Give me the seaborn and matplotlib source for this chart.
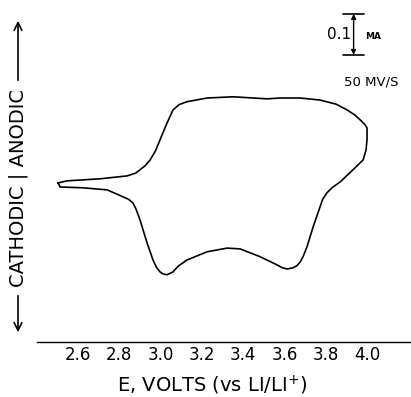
import matplotlib
matplotlib.use("Agg")
import matplotlib.pyplot as plt
import numpy as np
import pandas as pd
import seaborn as sns

# potential (V vs Li/Li+) and current (mA), one full cycle
volts = [2.503, 2.547, 2.707, 2.837, 2.880, 2.900, 2.925, 2.949, 2.975, 2.997, 3.031, 3.060,
         3.090, 3.128, 3.225, 3.351, 3.448, 3.516, 3.579, 3.676, 3.772, 3.850, 3.903,
         3.940, 3.966, 3.990, 4.000, 4.000, 3.995, 3.981, 3.932, 3.869, 3.830, 3.806,
         3.785, 3.772, 3.739, 3.709, 3.690, 3.676, 3.660, 3.642, 3.613, 3.590, 3.564,
         3.482, 3.385, 3.322, 3.225, 3.128, 3.085, 3.060, 3.031, 3.012, 2.997, 2.980,
         2.963, 2.934, 2.900, 2.880, 2.866, 2.845, 2.818, 2.741, 2.624, 2.513, 2.503]
current = [0.000, 0.005, 0.010, 0.017, 0.024, 0.032, 0.042, 0.056, 0.078, 0.105, 0.146, 0.178,
           0.191, 0.198, 0.207, 0.210, 0.207, 0.205, 0.207, 0.207, 0.202, 0.192, 0.178,
           0.166, 0.154, 0.142, 0.134, 0.105, 0.080, 0.056, 0.032, 0.002, -0.012, -0.024,
           -0.040, -0.059, -0.107, -0.156, -0.180, -0.193, -0.202, -0.207, -0.210, -0.207, -0.200,
           -0.180, -0.161, -0.159, -0.168, -0.188, -0.203, -0.217, -0.224, -0.222, -0.217, -0.206,
           -0.188, -0.146, -0.090, -0.063, -0.049, -0.040, -0.034, -0.017, -0.012, -0.010, 0.000]
tick_vals = [2.6, 2.8, 3.0, 3.2, 3.4, 3.6, 3.8, 4.0]
tick_labels = ["2.6", "2.8", "3.0", "3.2", "3.4", "3.6", "3.8", "4.0"]

df = pd.DataFrame({"E": volts, "I": current})

sns.set_style("white")
plt.rcParams["font.family"] = ["DejaVu Sans"]
plt.rcParams["text.color"] = "black"
plt.rcParams["xtick.color"] = "black"

fig = plt.figure(figsize=(4.11, 3.97), dpi=100)
ax = fig.add_axes([37 / 411, 55 / 397, 374 / 411, 342 / 397])

sns.lineplot(data=df, x="E", y="I", sort=False, estimator=None,
             color="black", linewidth=1.2, ax=ax)
for ln in ax.lines:
    ln.set_solid_joinstyle("round")

ax.set_xlim(2.401, 4.213)
ax.set_ylim(-0.388, 0.446)
for s in ["top", "right", "left"]:
    ax.spines[s].set_visible(False)
ax.spines["bottom"].set_color("black")
ax.spines["bottom"].set_linewidth(1.0)
ax.set_xticks(tick_vals)
ax.set_xticklabels(tick_labels, fontsize=12)
ax.set_yticks([])
ax.tick_params(axis="x", direction="in", length=10, width=1.0, pad=3, colors="black")
ax.set_xlabel("")
ax.set_ylabel("")

# scale bar 0.1 mA
bx = 3.935
ax.annotate("", xy=(bx, 0.412), xytext=(bx, 0.312),
            arrowprops=dict(arrowstyle="<|-|>", color="black", lw=1.0,
                            mutation_scale=7, shrinkA=0, shrinkB=0))
ax.plot([bx - 0.05, bx + 0.05], [0.412, 0.412], color="black", lw=1.2)
ax.plot([bx - 0.05, bx + 0.05], [0.312, 0.312], color="black", lw=1.2)
ax.text(bx - 0.012, 0.362, "0.1", ha="right", va="center", fontsize=11)
ax.text(bx + 0.055, 0.357, "MA", ha="left", va="center", fontsize=6.5, weight="bold")
ax.text(4.02, 0.245, "50 MV/S", ha="center", va="center", fontsize=9.5)

# left label with arrows
fig.text(18 / 411, 1 - 188 / 397, "CATHODIC | ANODIC", rotation=90,
         ha="center", va="center", fontsize=14)
fig.add_artist(matplotlib.patches.FancyArrowPatch(
    (18 / 411, 1 - 83 / 397), (18 / 411, 1 - 18 / 397), transform=fig.transFigure,
    arrowstyle="->", mutation_scale=14, color="black", lw=1.2))
fig.add_artist(matplotlib.patches.FancyArrowPatch(
    (18 / 411, 1 - 293 / 397), (18 / 411, 1 - 335 / 397), transform=fig.transFigure,
    arrowstyle="->", mutation_scale=14, color="black", lw=1.2))

fig.text(212 / 411, 1 - 385 / 397, "E, VOLTS (vs LI/LI$^{+}$)",
         ha="center", va="center", fontsize=14)

fig.savefig("out.png", dpi=100)
